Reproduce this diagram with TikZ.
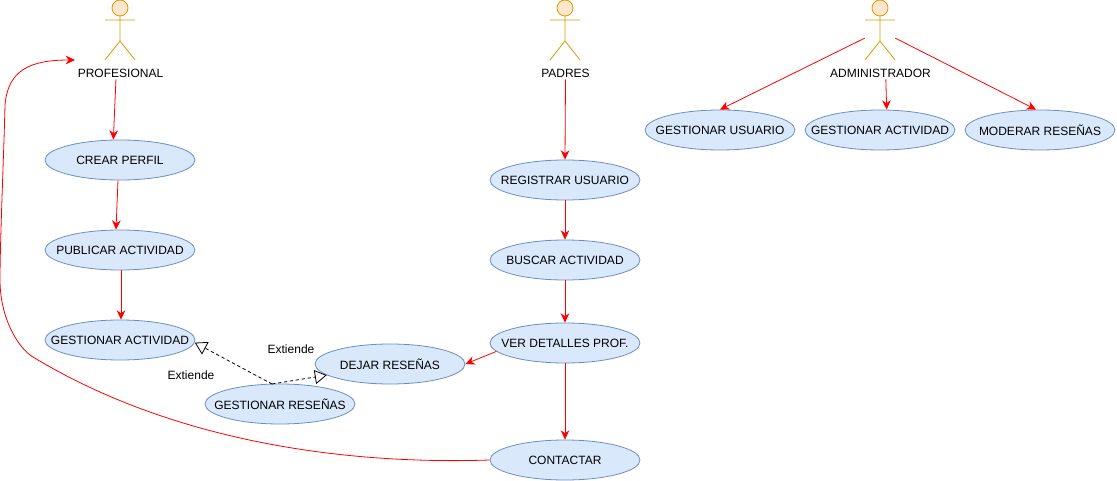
\documentclass[tikz,border=0pt]{standalone}
\usepackage{fontspec}
\setmainfont{Liberation Sans}
\usetikzlibrary{arrows.meta,calc,shapes.geometric}
\definecolor{casefill}{HTML}{DAE8FC}
\definecolor{casedraw}{HTML}{6C8EBF}
\definecolor{actorfill}{HTML}{FFE6CC}
\definecolor{actordraw}{HTML}{D79B00}
\tikzset{
  usecase/.style={ellipse,draw=casedraw,fill=casefill,line width=0.6pt,minimum width=112.5pt,minimum height=30pt,inner ysep=0pt,inner xsep=-14pt,font=\fontsize{9}{11}\selectfont},
  actorbox/.style={minimum width=22.5pt,minimum height=45pt,inner sep=0pt},
  actorname/.style={inner sep=1pt,font=\fontsize{9}{11}\selectfont},
  flow/.style={red,line width=0.6pt,-{Stealth[length=7pt,width=6.5pt]}},
  ext/.style={black,line width=0.6pt,dash pattern=on 2.5pt off 2pt,-{Triangle[open,fill=white,length=9pt,width=10.5pt]}}
}
\begin{document}
\begin{tikzpicture}[x=0.75pt,y=-0.75pt]
\useasboundingbox (0,0) rectangle (1117,481);

% actors
\foreach \name/\cx/\txt in {profesional/120/PROFESIONAL,padres/565/PADRES,administrador/880/ADMINISTRADOR}{
  \node [actorbox] (\name) at (\cx,30) {};
  \node [actorname] (\name-name) at (\cx+0.5,73.5) {\txt};
  \draw [actordraw,fill=actorfill,line width=0.6pt] (\cx,8) circle (6pt);
  \draw [actordraw,line width=0.6pt] (\cx,16) -- (\cx,41) (\cx-15,20) -- (\cx+15,20)
    (\cx-15,60) -- (\cx,41) -- (\cx+15,60);
}

% use cases
\node [usecase] (crear) at (120,160) {CREAR PERFIL};
\node [usecase] (publicar) at (120,250) {PUBLICAR ACTIVIDAD};
\node [usecase] (gestact) at (120,340) {GESTIONAR ACTIVIDAD};
\node [usecase] (dejar) at (390,364) {DEJAR RESEÑAS};
\node [usecase] (gestres) at (280,404) {GESTIONAR RESEÑAS};
\node [usecase] (registrar) at (565,180) {REGISTRAR USUARIO};
\node [usecase] (buscar) at (565,260) {BUSCAR ACTIVIDAD};
\node [usecase] (detalles) at (565,343) {VER DETALLES PROF.};
\node [usecase] (contactar) at (565,460) {CONTACTAR};
\node [usecase] (gestusu) at (720,130) {GESTIONAR USUARIO};
\node [usecase] (gestact2) at (880,130) {GESTIONAR ACTIVIDAD};
\node [usecase] (moderar) at (1040,130) {MODERAR RESEÑAS};

% labels
\node [actorname] (ext1) at (291,349) {Extiende};
\node [actorname] (ext2) at (191,375) {Extiende};

% connectors
\draw [flow] ([xshift=-3.4pt]profesional-name.south) -- ([xshift=-5pt]crear.north);
\draw [flow] ([xshift=-1.5pt]crear.south) -- ([xshift=-3pt]publicar.north);
\draw [flow] ([xshift=0.75pt]publicar.south) -- ([xshift=0.75pt]gestact.north);
\draw [flow] (padres-name.south) -- (registrar.north);
\draw [flow] (registrar) -- (buscar);
\draw [flow] (buscar) -- (detalles);
\draw [flow] (detalles) -- (contactar);
\draw [flow] (detalles.187) -- (dejar.east);
\draw [flow] (administrador.208) -- (gestusu.north);
\draw [flow] ([xshift=4pt]administrador-name.south) -- ([xshift=5pt]gestact2.north);
\draw [flow] (administrador.-28) -- ([xshift=-3pt]moderar.north);
\coordinate (profin) at (75,60);
\draw [flow] (contactar.west) .. controls (340,465) and (170,440) .. (33,357)
  .. controls (18,348) and (0,318) .. (0,280) .. controls (0,240) and (4,150) .. (5,105)
  .. controls (8,70) and (30,60) .. (profin);
\coordinate (extstart) at (272,384);
\draw [ext] (extstart) -- (gestact.-2);
\draw [ext] (extstart) -- (dejar.190);
\end{tikzpicture}
\end{document}
